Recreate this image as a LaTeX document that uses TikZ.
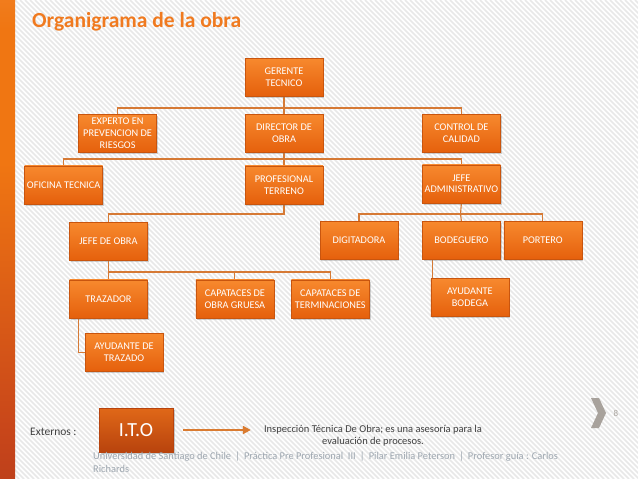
\documentclass[tikz,border=0pt]{standalone}
\usepackage{fontspec}
\setmainfont{Carlito}
\usetikzlibrary{arrows.meta,positioning,shadows,backgrounds}
\definecolor{OrgTop}{HTML}{F7892E}
\definecolor{OrgBot}{HTML}{E5600C}
\definecolor{OrgEdge}{HTML}{C9550E}
\definecolor{ItoTop}{HTML}{E06818}
\definecolor{ItoBot}{HTML}{B8430D}
\definecolor{LinkLine}{HTML}{D67A35}
\definecolor{TitleOrange}{HTML}{F07A1F}
\definecolor{FootGray}{HTML}{9EA7B0}
\definecolor{TextGray}{HTML}{404040}
\definecolor{ChevGray}{HTML}{A8A29C}
\definecolor{Stripe}{HTML}{E8E8E8}
\definecolor{BarTop}{HTML}{F6AE74}
\definecolor{BarMid}{HTML}{F07612}
\definecolor{BarLow}{HTML}{C8461A}
\definecolor{BarBot}{HTML}{8E2422}
\pgfdeclareverticalshading{sidebar}{100bp}{color(0bp)=(BarBot); color(30bp)=(BarLow); color(58bp)=(BarMid); color(72bp)=(BarMid); color(100bp)=(BarTop)}
\tikzset{
  orgbox/.style={draw=OrgEdge, top color=OrgTop, bottom color=OrgBot, text=white, align=center, minimum width=78pt, minimum height=38pt, inner sep=1pt, font=\fontsize{10.3}{11.8}\selectfont, drop shadow={shadow xshift=1.2pt, shadow yshift=-1.8pt, opacity=0.35}},
  itobox/.style={draw=ItoBot, top color=ItoTop, bottom color=ItoBot, text=white, minimum width=74pt, minimum height=44pt, font=\fontsize{20}{22}\selectfont, drop shadow={shadow xshift=1.5pt, shadow yshift=-2pt, opacity=0.4}},
  link/.style={draw=LinkLine, line width=1.1pt},
  arrow/.style={-{Triangle[length=8pt, width=8pt]}, line width=2.2pt, draw=LinkLine!90!orange}
}
\begin{document}
\begin{tikzpicture}[x=1pt, y=-1pt]
  \useasboundingbox (0,0) rectangle (638,479);
  \shade[shading=sidebar] (0,0) rectangle (15,479);
  \node[anchor=west, inner sep=0, text=TitleOrange, font=\fontsize{21.5}{24}\selectfont\bfseries] (title) at (32,22) {Organigrama de la obra};

  % org chart
  \node[orgbox] (gerente) at (284,77) {GERENTE\\TECNICO};
  \node[orgbox, below=18pt of gerente] (director) {DIRECTOR DE\\OBRA};
  \node[orgbox, left=88pt of director] (experto) {EXPERTO EN\\PREVENCION DE\\RIESGOS};
  \node[orgbox, right=99pt of director] (control) {CONTROL DE\\CALIDAD};
  \node[orgbox, below=13pt of director] (profesional) {PROFESIONAL\\TERRENO};
  \node[orgbox, left=142pt of profesional] (oficina) {OFICINA TECNICA};
  \node[orgbox, below=12pt of control] (jefeadm) {JEFE\\ADMINISTRATIVO};
  \node[orgbox, below=18pt of jefeadm] (bodeguero) {BODEGUERO};
  \node[orgbox, left=24pt of bodeguero] (digitadora) {DIGITADORA};
  \node[orgbox, right=3pt of bodeguero] (portero) {PORTERO};
  \node[orgbox] (jefeobra) at (108.5,241.5) {JEFE DE OBRA};
  \node[orgbox, below=19pt of jefeobra] (trazador) {TRAZADOR};
  \node[orgbox, right=48pt of trazador] (capog) {CAPATACES DE\\OBRA GRUESA};
  \node[orgbox, right=17pt of capog] (capterm) {CAPATACES DE\\TERMINACIONES};
  \node[orgbox, below=19pt of bodeguero, xshift=8.5pt] (ayudbod) {AYUDANTE\\BODEGA};
  \node[orgbox, below=15pt of trazador, xshift=15.5pt] (ayudtraz) {AYUDANTE DE\\TRAZADO};

  \coordinate (bar1) at (284,108);
  \coordinate (bar2) at (284,159);
  \coordinate (bar3) at (284,214);
  \coordinate (bar4) at (460.5,214);
  \coordinate (bar5) at (108.5,272);

  \begin{scope}[on background layer]
    \fill[white] (15,0) rectangle (638,479);
    \clip (15,0) rectangle (638,479);
    \foreach \s in {-480,-475,...,640}
      \draw[Stripe, line width=1.6pt] (\s,0) -- ++(479,479);
    \draw[link] (gerente) -- (director);
    \draw[link] (experto.north) |- (bar1) -| (control.north);
    \draw[link] (director) -- (profesional);
    \draw[link] (oficina.north) |- (bar2) -| (jefeadm.north);
    \draw[link] (profesional.south) -- (bar3) -| (jefeobra.north);
    \draw[link] (jefeadm.south) -- (bar4);
    \draw[link] (digitadora.north) |- (bar4) -| (portero.north);
    \draw[link] (bar4) -- (bodeguero.north);
    \draw[link] (jefeobra) -- (trazador);
    \draw[link] (bar5) -| (capog.north);
    \draw[link] (bar5) -| (capterm.north);
    \draw[link] ([xshift=9pt]trazador.south west) |- (ayudtraz.west);
    \draw[link] ([xshift=10pt]bodeguero.south west) |- (ayudbod.west);
  \end{scope}

  % externos
  \node[anchor=west, inner sep=0, text=TextGray, font=\fontsize{11.5}{13}\selectfont] (externos) at (30,432) {Externos :};
  \node[itobox] (ito) at (136,430) {I.T.O};
  \node[inner sep=0, align=center, text=TextGray, font=\fontsize{10.5}{12}\selectfont] (desc) at (373,436) {Inspección Técnica De Obra; es una asesoría para la\\evaluación de procesos.};
  \draw[arrow, shorten <=10pt, shorten >=13pt] (ito.east) -- (ito.east -| desc.west);

  % footer
  \node[anchor=north west, inner sep=0, align=left, text=FootGray, font=\fontsize{10.4}{12.5}\selectfont] (footer) at (93,452) {Universidad de Santiago de Chile \,|\, Práctica Pre Profesional \ III \,|\, Pilar Emilia Peterson \,|\, Profesor guía : Carlos\\Richards};
  \fill[ChevGray] (591,398) -- (599,398) -- (606,413) -- (599,428) -- (591,428) -- (598,413) -- cycle;
  \node[inner sep=0, text=ChevGray, font=\fontsize{9}{11}\selectfont] (pagenum) at (616,413) {8};
\end{tikzpicture}
\end{document}
